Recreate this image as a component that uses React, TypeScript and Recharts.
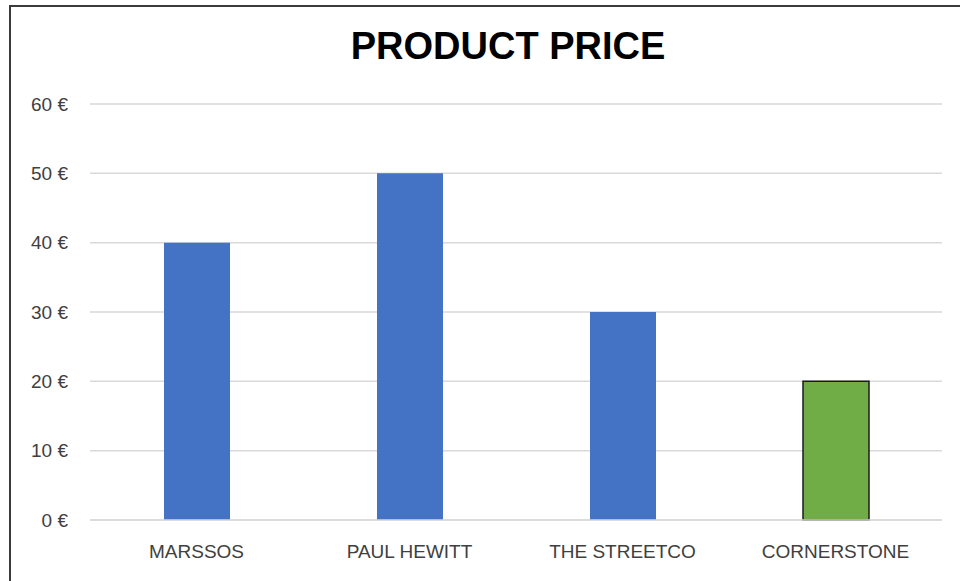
import React from "react";
import { BarChart, Bar, XAxis, YAxis, CartesianGrid, Cell } from "recharts";

const categories = ["MARSSOS", "PAUL HEWITT", "THE STREETCO", "CORNERSTONE"];
const prices = [40, 50, 30, 20];
const barColors = ["#4472C4", "#4472C4", "#4472C4", "#70AD47"];
const barStrokes = ["none", "none", "none", "#1a1a1a"];
const yTicks = [0, 10, 20, 30, 40, 50, 60];

const data = categories.map((name, i) => ({ name, price: prices[i] }));

const FONT = "'Liberation Sans', Arial, sans-serif";

export default function App() {
  return (
    <div style={{ position: "fixed", left: 0, top: 0, width: 960, height: 581, overflow: "hidden", background: "#fff" }}>
      <div
        style={{
          position: "absolute",
          left: 9,
          top: 5,
          width: 1000,
          height: 1000,
          border: "2px solid #3c3c3c",
          boxSizing: "border-box",
        }}
      />
      <div
        style={{
          position: "absolute",
          left: 0,
          width: 1016,
          top: 23,
          textAlign: "center",
          fontFamily: FONT,
          fontWeight: 700,
          fontSize: 38,
          lineHeight: "46px",
          color: "#000",
        }}
      >
        PRODUCT PRICE
      </div>
      <div style={{ position: "absolute", left: 0, top: 0 }}>
        <BarChart
          width={960}
          height={581}
          data={data}
          margin={{ top: 104, right: 18, bottom: 31, left: 0 }}
          barCategoryGap={0}
        >
          <CartesianGrid vertical={false} stroke="#d9d9d9" strokeWidth={1.5} />
          <XAxis
            dataKey="name"
            tickLine={false}
            axisLine={{ stroke: "#d9d9d9", strokeWidth: 1.5 }}
            tickSize={0}
            tickMargin={25}
            height={30}
            interval={0}
            tick={{ fill: "#404040", fontSize: 19, fontFamily: FONT }}
          />
          <YAxis
            domain={[0, 60]}
            ticks={yTicks}
            tickFormatter={(v: number) => `${v} €`}
            tickLine={false}
            axisLine={false}
            tickSize={0}
            tickMargin={22}
            width={90}
            tick={{ fill: "#404040", fontSize: 19, fontFamily: FONT }}
          />
          <Bar dataKey="price" barSize={66} isAnimationActive={false}>
            {data.map((d, i) => (
              <Cell key={d.name} fill={barColors[i]} stroke={barStrokes[i]} strokeWidth={1.5} />
            ))}
          </Bar>
        </BarChart>
      </div>
    </div>
  );
}
